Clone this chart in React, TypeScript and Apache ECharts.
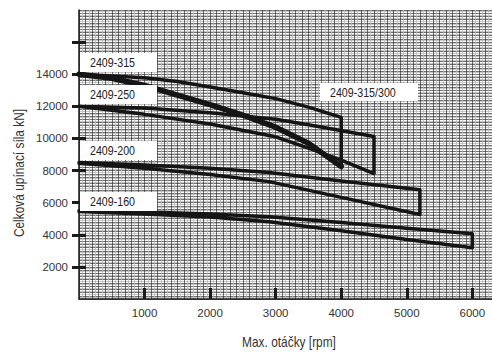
import React, { useEffect, useRef } from "react";
import * as echarts from "echarts";

const xMax = 6300;
const yMax = 18000;
const xTickValues = [1000, 2000, 3000, 4000, 5000, 6000];
const yTickValues = [2000, 4000, 6000, 8000, 10000, 12000, 14000, 16000];
const yLabelValues = [2000, 4000, 6000, 8000, 10000, 12000, 14000];

const s315Top: [number, number][] = [[0, 14000], [1000, 13780], [1500, 13550], [2000, 13200], [2500, 12850], [3000, 12480], [3500, 11950], [4000, 11310]];
const s315Bottom: [number, number][] = [[0, 14000], [500, 13750], [1000, 13300], [1500, 12700], [2000, 12100], [2500, 11450], [3000, 10700], [3500, 9700], [4000, 8250]];
const s250Top: [number, number][] = [[0, 12000], [1000, 11900], [2000, 11600], [3000, 11200], [3500, 10850], [4500, 10125]];
const s250Bottom: [number, number][] = [[0, 12000], [1000, 11500], [2000, 10900], [3000, 10100], [3500, 9400], [4000, 8650], [4500, 7810]];
const s200Top: [number, number][] = [[0, 8500], [1000, 8350], [2000, 8150], [2900, 7875], [4000, 7350], [5200, 6810]];
const s200Bottom: [number, number][] = [[0, 8450], [1000, 8150], [2000, 7750], [2900, 7310], [4000, 6330], [5200, 5260]];
const s160Top: [number, number][] = [[0, 5500], [1000, 5420], [2000, 5300], [2900, 5125], [4000, 4760], [5000, 4400], [6000, 4060]];
const s160Bottom: [number, number][] = [[0, 5450], [1000, 5300], [2000, 5100], [2900, 4810], [4000, 4250], [5000, 3700], [6000, 3190]];

const bandNames = ["2409-315", "2409-250", "2409-200", "2409-160"];
const extraLabel = "2409-315/300";
const xName = "Max. otáčky [rpm]";
const yName = "Celková upínací síla kN]";

const FONT = "'Liberation Sans', Arial, sans-serif";

function closed(top: [number, number][], bottom: [number, number][]) {
  return [...top, ...bottom.slice().reverse()];
}

export default function App() {
  const ref = useRef<HTMLDivElement>(null);
  useEffect(() => {
    if (!ref.current) return;
    const chart = echarts.init(ref.current, null, { renderer: "svg" });
    const lineSeries = (name: string, data: [number, number][], w: number) => ({
      name,
      type: "line",
      data,
      symbol: "none",
      xAxisIndex: 0,
      yAxisIndex: 0,
      lineStyle: { color: "#151515", width: w, join: "round", cap: "round" },
      z: 10,
    });
    const labelBoxes = [
      { text: bandNames[0], x: 80, y: 53, w: 77, h: 19 },
      { text: bandNames[1], x: 80, y: 85, w: 77, h: 19 },
      { text: bandNames[2], x: 80, y: 141, w: 77, h: 19 },
      { text: bandNames[3], x: 80, y: 192, w: 77, h: 19 },
      { text: extraLabel, x: 320, y: 83, w: 98, h: 18 },
    ];
    const graphic: any[] = [];
    labelBoxes.forEach((b) => {
      graphic.push({ type: "rect", z: 50, shape: { x: b.x, y: b.y, width: b.w, height: b.h }, style: { fill: "#fff" } });
      graphic.push({
        type: "text",
        z: 51,
        x: b.x + 10,
        y: b.y + b.h / 2 + 0.5,
        scaleX: 0.82,
        style: { text: b.text, fontFamily: FONT, fontSize: 13, fill: "#222", verticalAlign: "middle", align: "left" },
      });
    });
    graphic.push({
      type: "text",
      x: 19,
      y: 173,
      rotation: Math.PI / 2,
      scaleX: 0.85,
      style: { text: yName, fontFamily: FONT, fontSize: 14, fill: "#333", align: "center", verticalAlign: "middle" },
    });
    graphic.push({
      type: "text",
      x: 289,
      y: 342,
      scaleX: 0.85,
      style: { text: xName, fontFamily: FONT, fontSize: 14, fill: "#333", align: "center", verticalAlign: "middle" },
    });

    const gridX = {
      type: "value", min: 0, max: xMax, interval: 100, position: "bottom",
      axisLine: { show: false }, axisTick: { show: false }, axisLabel: { show: false },
      splitLine: { show: true, lineStyle: { color: "#333", width: 0.7 } },
      minorTick: { show: false, splitNumber: 2 },
      minorSplitLine: { show: true, lineStyle: { color: "#bbb", width: 0.8 } },
    };
    const tickX = {
      type: "value", min: 0, max: xMax, position: "bottom",
      axisLine: { show: true, onZero: false, lineStyle: { color: "#1a1a1a", width: 1.5 } },
      axisTick: { show: true, inside: true, length: 11, customValues: xTickValues, lineStyle: { color: "#1a1a1a", width: 3 } },
      axisLabel: { show: true, customValues: xTickValues, margin: 8, fontFamily: FONT, fontSize: 11.5, color: "#333", formatter: (v: number) => String(v) },
      splitLine: { show: false },
    };
    const gridY = {
      type: "value", min: 0, max: yMax, interval: 200, position: "left",
      axisLine: { show: false }, axisTick: { show: false }, axisLabel: { show: false },
      splitLine: { show: true, lineStyle: { color: "#333", width: 0.7 } },
      minorTick: { show: false, splitNumber: 2 },
      minorSplitLine: { show: true, lineStyle: { color: "#bbb", width: 0.8 } },
    };
    const tickYOut = {
      type: "value", min: 0, max: yMax, position: "left",
      axisLine: { show: true, onZero: false, lineStyle: { color: "#1a1a1a", width: 1.5 } },
      axisTick: { show: true, inside: false, length: 7, customValues: yTickValues, lineStyle: { color: "#1a1a1a", width: 3 } },
      axisLabel: { show: true, customValues: yLabelValues, margin: 11, fontFamily: FONT, fontSize: 11.5, color: "#333", formatter: (v: number) => String(v) },
      splitLine: { show: false },
    };
    const tickYIn = {
      type: "value", min: 0, max: yMax, position: "left",
      axisLine: { show: false },
      axisTick: { show: true, inside: true, length: 7, customValues: yTickValues, lineStyle: { color: "#1a1a1a", width: 3 } },
      axisLabel: { show: false },
      splitLine: { show: false },
    };

    chart.setOption({
      animation: false,
      textStyle: { fontFamily: FONT },
      grid: { left: 79, right: 0, top: 10, bottom: 58, containLabel: false },
      xAxis: [gridX, tickX],
      yAxis: [gridY, tickYOut, tickYIn],
      graphic,
      series: [
        lineSeries(bandNames[0], closed(s315Top, s315Bottom), 3.5),
        { ...lineSeries(extraLabel, s315Bottom, 5.5) },
        lineSeries(bandNames[1], closed(s250Top, s250Bottom), 3.5),
        lineSeries(bandNames[2], closed(s200Top, s200Bottom), 3.5),
        lineSeries(bandNames[3], closed(s160Top, s160Bottom), 3.5),
      ],
    } as any);
    return () => chart.dispose();
  }, []);
  return <div ref={ref} style={{ position: "absolute", left: 0, top: 0, width: 492, height: 357 }} />;
}
